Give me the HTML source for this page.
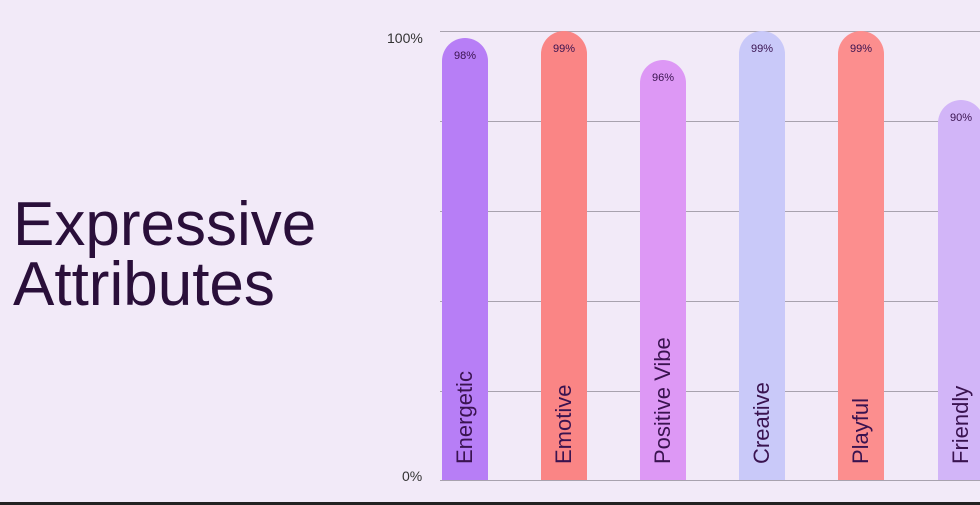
<!DOCTYPE html>
<html><head><style>
html,body{margin:0;padding:0}
body{width:980px;height:505px;background:#f2eaf8;position:relative;overflow:hidden;font-family:"Liberation Sans",sans-serif}
.title{position:absolute;left:13px;top:195px;font-size:62px;line-height:60px;color:#2a0f3a;letter-spacing:0px}
.grid{position:absolute;left:440px;width:540px;height:1px;background:#a8a2ae}
.ax{position:absolute;font-size:14px;color:#333}
.bar{position:absolute;width:46px;border-radius:23px 23px 0 0;bottom:25px}
.pct{position:absolute;top:12px;width:100%;text-align:center;font-size:11px;color:#3a1350}
.lab{position:absolute;left:50%;transform-origin:0 0;transform:rotate(-90deg) translate(0,-50%);font-size:22px;color:#3a1350;white-space:nowrap;line-height:26px;top:calc(100% - 16px)}
.bot{position:absolute;left:0;bottom:0;width:980px;height:3px;background:#222}
</style></head><body>
<div class="title">Expressive<br>Attributes</div>
<div class="grid" style="top:31px"></div>
<div class="grid" style="top:121px"></div>
<div class="grid" style="top:211px"></div>
<div class="grid" style="top:301px"></div>
<div class="grid" style="top:391px"></div>
<div class="grid" style="top:480px"></div>
<div class="ax" style="left:387px;top:30px">100%</div>
<div class="ax" style="left:402px;top:468px">0%</div>
<div class="bar" style="left:442px;top:38px;background:#b77ef6"><div class="pct">98%</div><div class="lab">Energetic</div></div>
<div class="bar" style="left:541px;top:31px;background:#fa8585"><div class="pct">99%</div><div class="lab">Emotive</div></div>
<div class="bar" style="left:640px;top:60px;background:#dd98f5"><div class="pct">96%</div><div class="lab">Positive Vibe</div></div>
<div class="bar" style="left:739px;top:31px;background:#c9c9f9"><div class="pct">99%</div><div class="lab">Creative</div></div>
<div class="bar" style="left:838px;top:31px;background:#fc8e8e"><div class="pct">99%</div><div class="lab">Playful</div></div>
<div class="bar" style="left:938px;top:100px;background:#d2b5f8"><div class="pct">90%</div><div class="lab">Friendly</div></div>
<div class="bot"></div>
</body></html>
